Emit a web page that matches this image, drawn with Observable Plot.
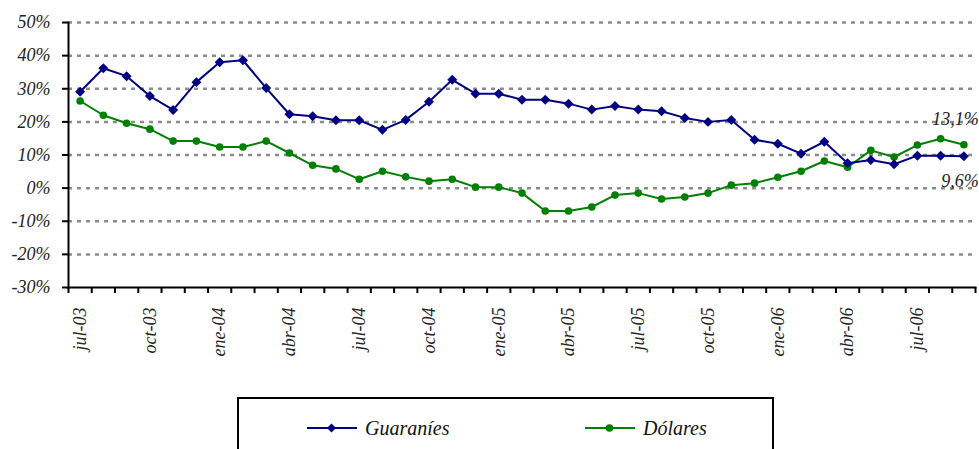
<!DOCTYPE html>
<html>
<head>
<meta charset="utf-8">
<script src="https://cdn.jsdelivr.net/npm/d3@7"></script>
<script src="https://cdn.jsdelivr.net/npm/@observablehq/plot@0.6"></script>
<style>
  html, body { margin: 0; padding: 0; background: #fff; overflow: hidden; }
  #wrap { position: relative; width: 979px; height: 449px; }
  #legend { position: absolute; left: 237px; top: 397px; width: 537px; height: 80px;
    border: 2px solid #000; box-sizing: border-box; color: #111; }
  .item { position: absolute; top: 17px; display: flex; align-items: center; }
  .item svg { margin-right: 8px; }
</style>
</head>
<body>
<div id="wrap">
  <div id="chart"></div>
  <div id="legend"></div>
</div>
<script>
const months = ["jul-03","ago-03","sep-03","oct-03","nov-03","dic-03","ene-04","feb-04","mar-04","abr-04","may-04","jun-04","jul-04","ago-04","sep-04","oct-04","nov-04","dic-04","ene-05","feb-05","mar-05","abr-05","may-05","jun-05","jul-05","ago-05","sep-05","oct-05","nov-05","dic-05","ene-06","feb-06","mar-06","abr-06","may-06","jun-06","jul-06","ago-06","sep-06"];
const guaranies = [29.1,36.2,33.8,27.8,23.6,32.0,38.0,38.6,30.2,22.3,21.7,20.5,20.5,17.6,20.6,26.1,32.7,28.5,28.5,26.7,26.7,25.5,23.7,24.8,23.7,23.2,21.2,20.0,20.6,14.6,13.4,10.4,14.0,7.5,8.5,7.2,9.8,9.8,9.6];
const dolares = [26.3,22.0,19.6,17.8,14.2,14.2,12.4,12.4,14.2,10.6,6.9,5.8,2.7,5.1,3.4,2.1,2.7,0.3,0.3,-1.5,-6.9,-6.9,-5.7,-2.1,-1.5,-3.3,-2.7,-1.5,0.9,1.5,3.3,5.1,8.2,6.3,11.4,9.4,13.0,14.9,13.1];
const yTicks = [-30,-20,-10,0,10,20,30,40,50];
const seriesNames = ["Guaraníes","Dólares"];
const seriesColors = ["#000080","#008000"];

const FONT = "'Liberation Serif', 'Times New Roman', serif";
const n = months.length;
const gData = guaranies.map((v,i)=>({i, v}));
const dData = dolares.map((v,i)=>({i, v}));
const labelTicks = d3.range(0, n, 3);
const boundaries = d3.range(n + 1).map(i => i - 0.5);
const fmt = v => String(v.toFixed(1)).replace(".", ",") + "%";

const chart = Plot.plot({
  width: 979, height: 390,
  marginLeft: 68, marginRight: 4, marginTop: 22, marginBottom: 103,
  style: {fontFamily: FONT, fontStyle: "italic", fontSize: "18px", color: "#222", background: "#fff"},
  x: {type: "linear", domain: [-0.5, n - 0.5], label: null},
  y: {domain: [-30, 50], label: null},
  marks: [
    Plot.gridY(yTicks.filter(t => t > -30), {stroke: "#8c8c8c", strokeOpacity: 1, strokeWidth: 2.5, strokeDasharray: "4,5"}),
    Plot.frame({anchor: "left", stroke: "#000", strokeWidth: 2}),
    Plot.frame({anchor: "bottom", stroke: "#000", strokeWidth: 2}),
    Plot.axisY({ticks: yTicks, tickFormat: d => d + "%", tickSize: 6, tickPadding: 12, strokeWidth: 2, stroke: "#000", label: null}),
    Plot.axisX({ticks: boundaries, tickFormat: () => "", tickSize: 6, strokeWidth: 2, stroke: "#000", label: null}),
    Plot.axisX({ticks: labelTicks, tickFormat: i => months[i], tickSize: 0, tickPadding: 20, tickRotate: -90, label: null}),
    Plot.line(dData, {x: "i", y: "v", stroke: seriesColors[1], strokeWidth: 2}),
    Plot.dot(dData, {x: "i", y: "v", fill: seriesColors[1], r: 3.8, symbol: "circle"}),
    Plot.line(gData, {x: "i", y: "v", stroke: seriesColors[0], strokeWidth: 2}),
    Plot.dot(gData, {x: "i", y: "v", fill: seriesColors[0], r: 4.5, symbol: "diamond2"}),
    Plot.text([dData[n-1]], {x: "i", y: "v", text: d => fmt(d.v), textAnchor: "end", dx: 15, dy: -25, fill: "#222", fontSize: 18}),
    Plot.text([gData[n-1]], {x: "i", y: "v", text: d => fmt(d.v), textAnchor: "end", dx: 15, dy: 25, fill: "#222", fontSize: 18})
  ]
});
d3.select(chart).selectAll("text").attr("font-family", FONT).attr("font-style", "italic").style("font-family", FONT);
document.getElementById("chart").appendChild(chart);

const legend = document.getElementById("legend");
legend.style.fontFamily = FONT;
legend.style.fontStyle = "italic";
legend.style.fontSize = "20px";
const positions = [68, 346];
seriesNames.forEach((name, k) => {
  const div = document.createElement("div");
  div.className = "item";
  div.style.left = positions[k] + "px";
  const marker = k === 0
    ? `<path d="M24.5,7.5 L29,12 L24.5,16.5 L20,12 Z" fill="${seriesColors[k]}"/>`
    : `<circle cx="24.5" cy="12" r="3.8" fill="${seriesColors[k]}"/>`;
  div.innerHTML = `<svg width="50" height="24"><line x1="0" x2="50" y1="12" y2="12" stroke="${seriesColors[k]}" stroke-width="2"/>${marker}</svg><span>${name}</span>`;
  legend.appendChild(div);
});
</script>
</body>
</html>
